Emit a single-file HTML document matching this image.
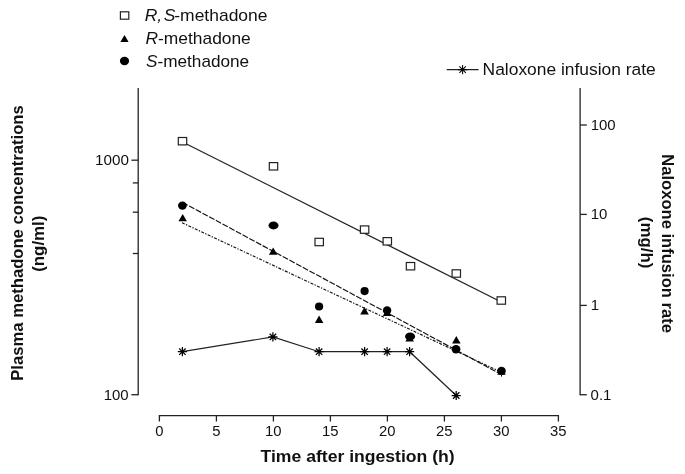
<!DOCTYPE html><html><head><meta charset="utf-8"><style>html,body{margin:0;padding:0;background:#fff}svg{display:block;will-change:transform;opacity:.999}text{font-family:"Liberation Sans",sans-serif;fill:#111}</style></head><body>
<svg width="685" height="474" viewBox="0 0 685 474">
<rect width="685" height="474" fill="#fff"/>
<g stroke="#222" stroke-width="1.3" fill="none">
<path d="M138.2 88V395.3"/>
<path d="M580.1 88V395.3"/>
<path d="M158.75 415.6H559.05"/>
</g>
<g stroke="#222" stroke-width="1.3" fill="none">
<path d="M131.4 160.2H138.2"/>
<path d="M131.4 394.7H138.2"/>
<path d="M132.8 182.9H138.2"/>
<path d="M132.8 212.2H138.2"/>
<path d="M132.8 253.5H138.2"/>
<path d="M580.1 125.0H586.8"/>
<path d="M580.1 214.4H586.8"/>
<path d="M580.1 305.4H586.8"/>
<path d="M580.1 394.7H586.8"/>
<path d="M159.4 415.6V421.5"/>
<path d="M216.4 415.6V421.5"/>
<path d="M273.4 415.6V421.5"/>
<path d="M330.4 415.6V421.5"/>
<path d="M387.4 415.6V421.5"/>
<path d="M444.4 415.6V421.5"/>
<path d="M501.4 415.6V421.5"/>
<path d="M558.4 415.6V421.5"/>
</g>
<text x="155.17" y="436.1" font-size="14" textLength="8.25" lengthAdjust="spacingAndGlyphs">0</text>
<text x="212.17" y="436.1" font-size="14" textLength="8.25" lengthAdjust="spacingAndGlyphs">5</text>
<text x="265.05" y="436.1" font-size="14" textLength="16.50" lengthAdjust="spacingAndGlyphs">10</text>
<text x="322.05" y="436.1" font-size="14" textLength="16.50" lengthAdjust="spacingAndGlyphs">15</text>
<text x="379.05" y="436.1" font-size="14" textLength="16.50" lengthAdjust="spacingAndGlyphs">20</text>
<text x="436.05" y="436.1" font-size="14" textLength="16.50" lengthAdjust="spacingAndGlyphs">25</text>
<text x="493.05" y="436.1" font-size="14" textLength="16.50" lengthAdjust="spacingAndGlyphs">30</text>
<text x="550.05" y="436.1" font-size="14" textLength="16.50" lengthAdjust="spacingAndGlyphs">35</text>
<text x="95.06" y="164.8" font-size="14" textLength="33.94" lengthAdjust="spacingAndGlyphs">1000</text>
<text x="103.71" y="400" font-size="14" textLength="24.99" lengthAdjust="spacingAndGlyphs">100</text>
<text x="590.70" y="129.7" font-size="14" textLength="24.99" lengthAdjust="spacingAndGlyphs">100</text>
<text x="590.70" y="219.3" font-size="14" textLength="16.66" lengthAdjust="spacingAndGlyphs">10</text>
<text x="590.70" y="310" font-size="14" textLength="8.33" lengthAdjust="spacingAndGlyphs">1</text>
<text x="590.60" y="399.8" font-size="14" textLength="20.82" lengthAdjust="spacingAndGlyphs">0.1</text>
<text x="357.6" y="461.6" font-size="16.8" text-anchor="middle" textLength="194.2" lengthAdjust="spacingAndGlyphs" font-weight="bold">Time after ingestion (h)</text>
<g transform="translate(22.5 243) rotate(-90)">
<text x="0" y="0" font-size="17" text-anchor="middle" textLength="275.5" lengthAdjust="spacingAndGlyphs" font-weight="bold">Plasma methadone concentrations</text>
</g>
<g transform="translate(43.7 243.7) rotate(-90)">
<text x="0" y="0" font-size="17" text-anchor="middle" textLength="56.2" lengthAdjust="spacingAndGlyphs" font-weight="bold">(ng/ml)</text>
</g>
<g transform="translate(661.6 243.6) rotate(90)">
<text x="0" y="0" font-size="17" text-anchor="middle" textLength="178.8" lengthAdjust="spacingAndGlyphs" font-weight="bold">Naloxone infusion rate</text>
</g>
<g transform="translate(641.2 242.6) rotate(90)">
<text x="0" y="0" font-size="17" text-anchor="middle" textLength="51.5" lengthAdjust="spacingAndGlyphs" font-weight="bold">(mg/h)</text>
</g>
<text x="144.7" y="21.1" font-size="16.4" textLength="122.8" lengthAdjust="spacingAndGlyphs"><tspan font-style="italic">R,</tspan><tspan font-style="italic" dx="1.6">S</tspan><tspan dx="-1.2">-methadone</tspan></text>
<text x="145.5" y="44.1" font-size="16.4" textLength="105.3" lengthAdjust="spacingAndGlyphs"><tspan font-style="italic">R</tspan>-methadone</text>
<text x="146" y="66.7" font-size="16.4" textLength="103.2" lengthAdjust="spacingAndGlyphs"><tspan font-style="italic">S</tspan>-methadone</text>
<text x="482.6" y="74.9" font-size="17.1" textLength="173.2" lengthAdjust="spacingAndGlyphs">Naloxone infusion rate</text>
<rect x="120.4" y="11.8" width="8.4" height="7.4" fill="#fff" stroke="#222" stroke-width="1.2"/>
<path d="M124.5 34.9L128.6 41.9H120.4Z" fill="#000"/>
<ellipse cx="124.5" cy="61.0" rx="4.6" ry="4.2" fill="#000"/>
<path d="M446.7 69.6H478.6" stroke="#222" stroke-width="1.2"/>
<path d="M457.9 69.6L467.3 69.6M459.4 66.4L465.8 72.8M462.6 64.9L462.6 74.3M465.8 66.4L459.4 72.8" stroke="#000" stroke-width="1.05" fill="none"/>
<path d="M182.5 142L501.3 302" stroke="#222" stroke-width="1.3"/>
<path d="M182.4 202.3L501.5 374.6" stroke="#111" stroke-width="1.15" stroke-dasharray="6 1.6" fill="none"/>
<path d="M182 222.7L501.5 372.3" stroke="#111" stroke-width="1.15" stroke-dasharray="3 1.4 1.3 1.4" fill="none"/>
<path d="M182.4 351.7L272.9 336.9L319.1 351.7L364.6 351.7L387.1 351.7L409.6 351.7L456.2 395.5" stroke="#222" stroke-width="1.2" fill="none"/>
<path d="M177.8 351.7L187.0 351.7M179.2 348.5L185.6 354.9M182.4 347.1L182.4 356.3M185.6 348.5L179.2 354.9" stroke="#000" stroke-width="1.25" fill="none"/>
<path d="M268.3 336.9L277.5 336.9M269.7 333.7L276.1 340.1M272.9 332.3L272.9 341.5M276.1 333.7L269.7 340.1" stroke="#000" stroke-width="1.25" fill="none"/>
<path d="M314.5 351.7L323.7 351.7M315.9 348.5L322.3 354.9M319.1 347.1L319.1 356.3M322.3 348.5L315.9 354.9" stroke="#000" stroke-width="1.25" fill="none"/>
<path d="M360.0 351.7L369.2 351.7M361.4 348.5L367.8 354.9M364.6 347.1L364.6 356.3M367.8 348.5L361.4 354.9" stroke="#000" stroke-width="1.25" fill="none"/>
<path d="M382.5 351.7L391.7 351.7M383.9 348.5L390.3 354.9M387.1 347.1L387.1 356.3M390.3 348.5L383.9 354.9" stroke="#000" stroke-width="1.25" fill="none"/>
<path d="M405.0 351.7L414.2 351.7M406.4 348.5L412.8 354.9M409.6 347.1L409.6 356.3M412.8 348.5L406.4 354.9" stroke="#000" stroke-width="1.25" fill="none"/>
<path d="M451.6 395.5L460.8 395.5M453.0 392.3L459.4 398.7M456.2 390.9L456.2 400.1M459.4 392.3L453.0 398.7" stroke="#000" stroke-width="1.25" fill="none"/>
<rect x="178.3" y="137.5" width="8.4" height="7.4" fill="#fff" stroke="#222" stroke-width="1.2"/>
<rect x="269.3" y="162.6" width="8.4" height="7.4" fill="#fff" stroke="#222" stroke-width="1.2"/>
<rect x="315.0" y="238.3" width="8.4" height="7.4" fill="#fff" stroke="#222" stroke-width="1.2"/>
<rect x="360.4" y="225.9" width="8.4" height="7.4" fill="#fff" stroke="#222" stroke-width="1.2"/>
<rect x="383.1" y="237.6" width="8.4" height="7.4" fill="#fff" stroke="#222" stroke-width="1.2"/>
<rect x="406.3" y="262.5" width="8.4" height="7.4" fill="#fff" stroke="#222" stroke-width="1.2"/>
<rect x="452.1" y="269.8" width="8.4" height="7.4" fill="#fff" stroke="#222" stroke-width="1.2"/>
<rect x="497.1" y="296.8" width="8.4" height="7.4" fill="#fff" stroke="#222" stroke-width="1.2"/>
<path d="M182.7 213.9L186.9 221.3H178.4Z" fill="#000"/>
<path d="M273.2 247.4L277.4 254.7H268.9Z" fill="#000"/>
<path d="M319.1 315.6L323.4 323.0H314.9Z" fill="#000"/>
<path d="M364.5 306.9L368.8 314.6H360.2Z" fill="#000"/>
<path d="M387.2 308.4L391.4 315.9H382.9Z" fill="#000"/>
<path d="M409.7 334.0L413.9 341.5H405.4Z" fill="#000"/>
<path d="M456.3 336.0L460.6 343.4H452.1Z" fill="#000"/>
<path d="M501.5 367.4L505.8 374.8H497.2Z" fill="#000"/>
<ellipse cx="182.4" cy="205.6" rx="4.4" ry="4.2" fill="#000"/>
<ellipse cx="273.5" cy="225.5" rx="5" ry="3.9" fill="#000"/>
<ellipse cx="319.1" cy="306.5" rx="4.1" ry="4.1" fill="#000"/>
<ellipse cx="364.6" cy="291.1" rx="4.1" ry="4.1" fill="#000"/>
<ellipse cx="387.1" cy="310.5" rx="4.2" ry="4.2" fill="#000"/>
<ellipse cx="410.1" cy="336.5" rx="5" ry="3.9" fill="#000"/>
<ellipse cx="456.0" cy="349.3" rx="4.4" ry="4.2" fill="#000"/>
<ellipse cx="501.5" cy="370.9" rx="4.3" ry="4.1" fill="#000"/>
<path d="M501.5 374V376.6" stroke="#111" stroke-width="1"/>
</svg></body></html>
